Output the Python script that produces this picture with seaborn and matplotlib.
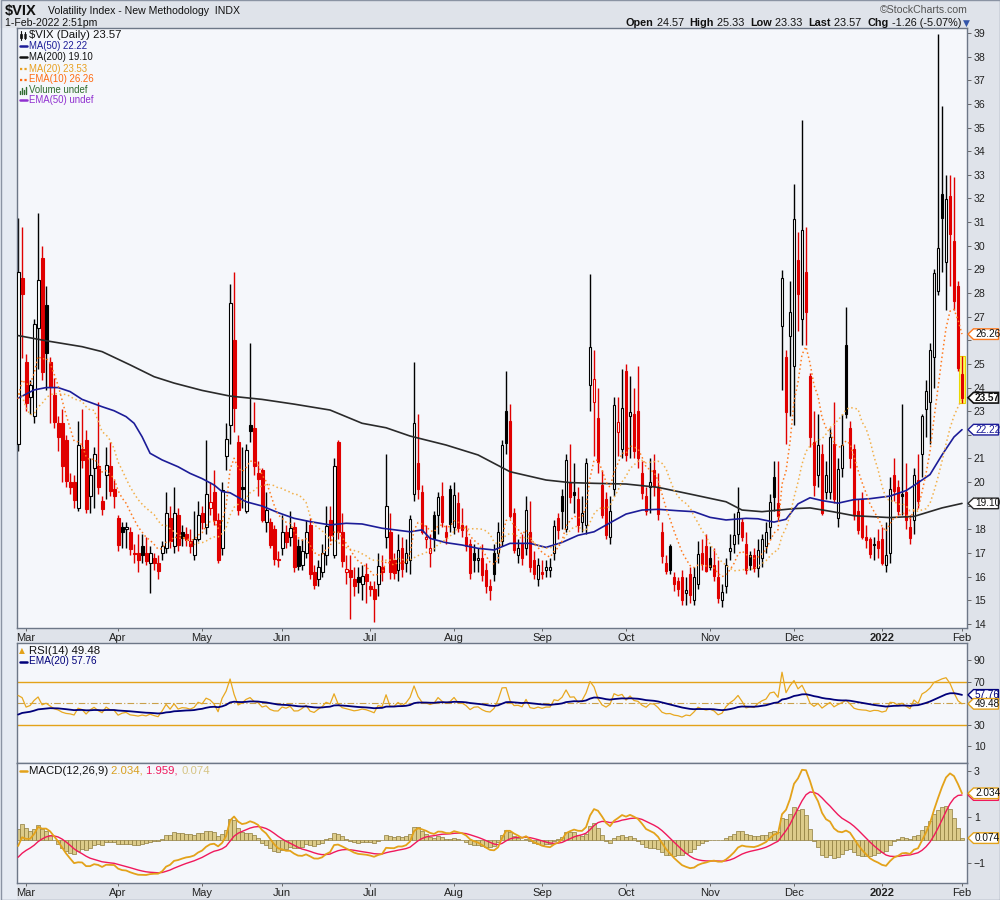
import numpy as np
import pandas as pd
import matplotlib
matplotlib.use("Agg")
import matplotlib.pyplot as plt
from matplotlib import font_manager
from matplotlib.lines import Line2D
from matplotlib.patches import Rectangle, Polygon
import seaborn as sns

# ---------------------------------------------------------------- data
# closes before the first visible candle (Jan 4 - Feb 24 2021), used only to warm up indicators
lookback_close = [26.97, 25.34, 25.07, 22.37, 21.56, 24.08, 23.33, 22.21, 23.25, 24.34,
                  23.24, 21.58, 21.32, 21.91, 23.19, 23.02, 37.21, 30.21, 33.09,
                  30.24, 25.56, 22.91, 21.77, 20.87, 21.24, 21.63, 21.99, 21.25, 19.97,
                  21.46, 21.50, 22.49, 22.05, 23.45, 23.11, 21.34]

open_ = [
    21.6, 28.65,
    25.1, 23.6, 22.8, 26.5, 29.5, 27.5, 25.1, 23.7, 22.5, 22.5, 21.8, 20.0, 20.0, 18.9, 21.4, 21.8, 19.4, 20.6, 20.7, 19.2, 20.3, 20.7, 19.7,
    18.5, 18.1, 18.0, 17.9, 17.0, 17.0, 17.3, 17.0, 16.6, 16.8, 16.6, 17.0, 17.2, 18.5, 17.3, 18.6, 17.9, 17.8, 17.5, 16.9, 17.6,
    18.7, 18.1, 18.9, 19.6, 18.4, 17.2, 21.1, 22.4, 26.0, 21.7, 19.8, 18.8, 22.4, 22.3, 20.4, 20.5, 18.3, 18.3, 18.0, 16.75,
    17.2, 17.9, 17.7, 18.1, 17.3, 16.5, 17.0, 18.2, 16.2, 15.9, 16.2, 16.9, 18.4, 16.9, 21.7, 17.9, 16.2, 16.3, 15.9, 16.0, 15.7, 16.1,
    15.6, 15.5, 15.7, 16.4, 17.7, 17.9, 16.7, 16.3, 17.2, 16.6, 16.7, 19.5, 20.8, 19.6, 17.6, 17.0, 18.6, 18.6, 19.4, 17.9, 19.7,
    18.1, 19.1, 18.2, 17.7, 17.4, 17.0, 16.7, 16.8, 16.3, 15.6, 17.0, 17.0, 17.5, 23.0, 22.6, 18.7, 16.9, 17.4, 17.2, 17.9, 16.7, 15.9,
    16.2, 16.3, 16.3, 17.0, 18.5, 19.4, 18.0, 20.0, 19.6, 19.3, 18.3, 18.2, 24.1, 23.4, 22.7, 19.9, 19.3, 17.7, 19.7, 22.1, 21.4,
    24.7, 22.8, 22.9, 23.0, 20.4, 19.4, 19.8, 20.5, 19.8, 17.9, 16.6, 17.3, 16.0, 15.8, 16.0, 15.3, 16.1, 15.0, 15.7, 17.0, 17.3,
    16.8, 16.5, 16.0, 15.0, 15.6, 17.1, 17.4, 17.8, 18.3, 17.4, 16.9, 16.9, 16.35, 16.8, 17.3, 18.1, 20.2, 19.1, 26.6, 25.3, 26.2,
    24.9, 29.4, 26.9, 28.9, 24.5, 21.7, 20.3, 21.2, 19.6, 19.6, 21.6, 18.5, 20.6, 25.8, 22.3, 21.4, 18.8, 19.3, 17.7, 17.6, 17.4, 17.5,
    17.6, 16.5, 17.0, 20.3, 19.8, 19.5, 19.6, 18.1, 18.4, 20.1, 21.2, 23.1, 23.4, 25.3, 28.1, 32.2, 29.3, 32.1, 30.2, 28.3,
    24.57]

high = [
    31.16, 30.8,
    25.4, 24.3, 26.9, 31.4, 30.0, 28.3, 25.3, 24.4, 22.8, 23.1, 22.0, 20.4, 20.3, 22.6, 23.1, 22.2, 21.0, 21.5, 23.4, 19.4, 21.5, 21.7, 20.1,
    18.6, 18.3, 18.3, 18.1, 17.4, 17.8, 17.8, 17.7, 17.3, 17.0, 16.9, 17.5, 19.6, 19.0, 19.8, 18.9, 18.2, 18.1, 18.0, 18.8, 19.2,
    19.0, 21.8, 20.0, 20.5, 18.7, 20.0, 22.5, 28.4, 28.9, 22.0, 21.5, 21.6, 25.9, 23.4, 20.9, 20.6, 19.6, 18.5, 18.2, 17.1,
    18.6, 18.2, 18.8, 18.3, 17.6, 17.6, 18.4, 18.5, 16.5, 16.7, 17.4, 19.0, 19.0, 21.0, 21.8, 18.7, 16.9, 16.9, 16.4, 16.4, 16.5, 16.6,
    15.8, 15.8, 17.0, 16.9, 21.2, 18.7, 17.0, 17.8, 17.7, 17.6, 18.6, 25.1, 22.9, 19.9, 18.2, 17.8, 18.8, 19.6, 20.0, 18.2, 19.9,
    20.0, 19.6, 18.9, 18.2, 17.6, 17.4, 17.2, 17.4, 16.6, 15.9, 17.4, 18.3, 21.8, 24.7, 23.3, 18.9, 17.6, 17.8, 19.4, 19.2, 17.1, 16.8,
    16.7, 16.7, 16.8, 18.4, 18.7, 19.7, 21.2, 21.6, 20.8, 19.8, 19.4, 21.0, 28.8, 25.6, 24.0, 20.5, 19.6, 19.4, 23.6, 23.6, 24.8,
    25.0, 24.5, 24.0, 24.9, 20.9, 19.8, 21.0, 21.2, 20.4, 18.3, 16.9, 17.4, 16.2, 16.0, 16.3, 16.0, 16.4, 16.4, 17.5, 17.6, 17.8,
    17.3, 17.2, 16.7, 15.7, 16.8, 17.8, 18.7, 19.8, 18.5, 17.9, 17.1, 17.2, 17.6, 17.8, 18.3, 19.5, 20.9, 20.9, 28.99, 25.6, 28.5,
    32.6, 30.6, 35.3, 30.8, 24.6, 23.0, 22.9, 21.6, 20.9, 22.3, 23.4, 21.0, 22.9, 27.4, 22.6, 21.6, 19.3, 19.6, 18.2, 17.7, 17.7, 18.0,
    18.1, 18.3, 20.2, 21.0, 20.1, 23.3, 20.8, 18.6, 20.6, 21.2, 22.9, 24.3, 25.9, 29.0, 38.94, 35.9, 33.0, 33.0, 32.9, 28.5,
    25.33]

low = [
    21.3, 25.25,
    23.0, 22.9, 22.5, 24.8, 24.3, 23.9, 22.5, 22.3, 21.3, 20.0, 19.8, 19.5, 18.9, 18.8, 20.6, 18.7, 18.7, 18.9, 19.5, 18.6, 19.3, 19.4, 18.9,
    17.1, 17.2, 17.2, 16.9, 16.6, 16.2, 16.6, 16.5, 15.3, 16.3, 15.9, 16.7, 17.0, 17.2, 17.0, 17.1, 17.3, 17.3, 17.0, 16.7, 17.5,
    18.0, 17.8, 18.6, 18.2, 16.6, 16.9, 20.5, 21.6, 22.1, 18.6, 18.9, 18.7, 21.7, 20.3, 19.4, 18.3, 17.9, 17.2, 16.5, 16.4,
    16.9, 17.2, 17.3, 16.2, 16.3, 16.3, 16.8, 15.9, 15.5, 15.6, 16.0, 16.5, 17.5, 16.8, 17.6, 16.4, 15.7, 14.2, 15.2, 15.3, 15.0, 14.9,
    15.2, 14.1, 15.2, 15.8, 17.2, 15.9, 15.9, 15.8, 16.0, 16.2, 16.1, 19.2, 19.3, 17.8, 17.2, 16.4, 17.1, 17.8, 18.1, 17.4, 17.9,
    17.8, 17.9, 17.7, 17.1, 15.9, 16.2, 16.2, 15.8, 15.3, 15.0, 15.8, 16.6, 17.3, 21.2, 18.5, 17.0, 16.6, 16.5, 16.9, 16.2, 15.9, 15.6,
    15.9, 16.0, 16.0, 16.7, 17.6, 18.0, 17.9, 19.1, 18.7, 17.9, 17.9, 17.8, 23.0, 21.1, 20.4, 18.5, 17.6, 17.4, 19.4, 21.1, 21.0,
    20.9, 21.0, 21.0, 20.6, 19.3, 18.6, 18.7, 19.4, 18.4, 16.6, 16.1, 16.1, 15.4, 15.2, 14.8, 14.8, 14.9, 14.8, 15.5, 16.3, 16.2,
    16.3, 15.8, 14.9, 14.7, 15.3, 16.7, 17.0, 17.4, 17.5, 16.1, 16.3, 16.2, 16.0, 16.4, 17.0, 17.6, 18.8, 18.4, 23.9, 21.6, 22.8,
    22.4, 26.4, 25.8, 25.8, 21.5, 19.4, 19.8, 18.6, 19.3, 19.3, 19.1, 18.1, 20.2, 22.7, 20.6, 18.4, 17.8, 17.6, 17.2, 16.8, 16.7, 16.8,
    16.5, 16.2, 16.6, 19.2, 18.6, 18.6, 18.0, 17.4, 17.8, 18.9, 20.2, 21.9, 21.6, 24.0, 27.9, 28.9, 27.3, 28.3, 27.3, 24.7,
    23.33]

close = [
    28.89, 27.95,
    23.35, 24.10, 26.67, 28.57, 24.66, 25.47, 24.03, 22.56, 21.91, 20.69, 20.03, 19.79, 19.23, 21.58, 20.95, 18.88, 20.30, 21.20, 19.81, 18.86, 20.74, 19.61, 19.40,
    17.33, 17.91, 18.12, 17.16, 16.95, 16.69, 16.91, 16.65, 16.99, 16.57, 16.25, 17.30, 18.68, 17.50, 18.71, 17.33, 17.64, 17.56, 17.28, 17.61, 18.61,
    18.31, 19.48, 19.15, 18.39, 16.69, 19.66, 21.84, 27.59, 23.13, 18.81, 19.72, 21.34, 22.18, 20.67, 20.15, 18.40, 18.84, 17.36, 16.74, 16.70,
    17.90, 17.48, 18.04, 16.42, 16.46, 17.07, 17.89, 16.10, 15.65, 16.39, 17.02, 18.15, 17.75, 20.70, 17.89, 16.66, 16.32, 15.97, 15.62, 15.76, 16.02, 15.83,
    15.48, 15.07, 16.44, 16.20, 19.00, 16.18, 16.17, 17.12, 16.33, 17.01, 18.45, 22.50, 19.73, 17.91, 17.69, 17.20, 17.58, 19.36, 18.31, 17.70, 18.24,
    19.46, 18.04, 17.97, 17.28, 16.15, 16.72, 16.79, 16.06, 15.59, 15.45, 16.12, 17.91, 21.57, 21.67, 18.56, 17.15, 17.22, 16.79, 18.84, 16.39, 16.11, 16.48,
    16.11, 16.41, 16.41, 18.14, 17.96, 18.80, 20.95, 19.37, 19.46, 18.18, 18.69, 20.81, 25.71, 24.36, 20.87, 18.63, 17.75, 18.76, 23.25, 22.56, 23.14,
    21.15, 22.96, 21.30, 21.00, 19.54, 18.77, 20.00, 19.85, 18.64, 16.86, 16.25, 16.30, 15.70, 15.49, 15.01, 15.43, 15.24, 15.98, 16.98, 16.53, 16.26,
    16.41, 16.03, 15.10, 15.37, 16.48, 17.22, 17.78, 18.73, 17.66, 16.29, 16.49, 16.37, 17.11, 17.59, 17.91, 19.17, 19.38, 18.58, 28.62, 22.96, 27.19,
    31.12, 27.95, 30.67, 27.18, 21.89, 19.90, 21.58, 18.69, 20.31, 21.89, 19.29, 20.57, 21.57, 22.87, 21.01, 18.63, 17.96, 17.68, 17.54, 16.95, 17.33, 17.22,
    16.60, 16.91, 19.73, 19.61, 18.76, 19.40, 18.41, 17.62, 20.31, 19.19, 22.79, 23.85, 25.59, 28.85, 29.90, 31.16, 31.96, 30.49, 27.66, 24.83,
    23.57]

# long moving averages (trading-day number, value)
ma50_day = [0, 4, 7, 10, 13, 16, 21, 24, 27, 29, 31, 33, 36, 40, 43, 46, 49, 51, 53, 57, 61, 65, 69, 73, 78,
            82, 86, 91, 98, 101, 103, 107, 111, 115, 119, 123, 128, 132, 136, 140, 144, 148, 152, 156, 160,
            165, 169, 173, 177, 182, 185, 189, 192, 195, 198, 201, 205, 209, 213, 218, 222, 224, 228, 231, 234, 236]
ma50_val = [23.55, 23.9, 24.0, 24.0, 23.83, 23.5, 23.19, 23.02, 22.77, 22.49, 21.92, 21.22, 20.94, 20.65, 20.37,
            20.15, 19.88, 19.6, 19.55, 19.17, 18.99, 18.71, 18.47, 18.33, 18.19, 18.26, 18.23, 18.05, 17.9, 17.98,
            17.62, 17.44, 17.34, 17.2, 17.13, 17.41, 17.41, 17.24, 17.45, 17.75, 17.9, 18.28, 18.65, 18.82, 18.85,
            18.79, 18.75, 18.51, 18.4, 18.47, 18.45, 18.31, 18.43, 19.08, 19.34, 19.22, 19.11, 19.26, 19.3, 19.41,
            19.64, 19.86, 20.32, 21.15, 21.91, 22.22]
ma200_day = [0, 7, 16, 21, 28, 34, 39, 46, 53, 61, 69, 78, 86, 92, 98, 107, 115, 123, 132, 138, 144, 152,
             160, 169, 177, 181, 186, 194, 198, 204, 209, 218, 224, 231, 236]
ma200_val = [26.2, 25.98, 25.73, 25.52, 24.96, 24.46, 24.19, 23.88, 23.64, 23.5, 23.3, 23.05, 22.49, 22.3,
             21.95, 21.57, 21.15, 20.44, 20.09, 19.98, 19.95, 19.92, 19.78, 19.46, 19.17, 18.82, 18.75, 18.88,
             18.91, 18.74, 18.58, 18.5, 18.55, 18.91, 19.10]

market_holidays = ['2021-04-02', '2021-05-31', '2021-07-05', '2021-09-06', '2021-11-25', '2021-12-24', '2022-01-17']
month_labels = ['Mar', 'Apr', 'May', 'Jun', 'Jul', 'Aug', 'Sep', 'Oct', 'Nov', 'Dec', '2022', 'Feb']

last_ema10, last_ma20, last_ma50, last_ma200 = 26.26, 23.53, 22.22, 19.10
last_rsi, last_rsi_ema = 49.48, 57.76
last_macd, last_signal, last_hist = 2.034, 1.959, 0.074

# ---------------------------------------------------------------- derived
dates = pd.bdate_range('2021-02-25', '2022-02-01')
dates = dates[~dates.isin(pd.to_datetime(market_holidays))]
n = len(close)
assert len(dates) == n == len(open_) == len(high) == len(low), (len(dates), n, len(open_), len(high), len(low))
x = np.arange(n)
o = np.array(open_); h = np.array(high); l = np.array(low); c = np.array(close)

nlb = len(lookback_close)
allc = pd.Series(lookback_close + close, dtype=float)
ema10 = allc.ewm(span=10, adjust=False).mean().values[nlb:]
ma20 = allc.rolling(20).mean().values[nlb:]
delta = allc.diff()
gain = delta.clip(lower=0)
loss = -delta.clip(upper=0)
ag = gain.ewm(alpha=1 / 14, adjust=False).mean()
al = loss.ewm(alpha=1 / 14, adjust=False).mean()
rsi_all = 100 - 100 / (1 + ag / al)
rsi_ema_all = rsi_all.ewm(span=20, adjust=False).mean()
macd_all = allc.ewm(span=12, adjust=False).mean() - allc.ewm(span=26, adjust=False).mean()
signal_all = macd_all.ewm(span=9, adjust=False).mean()
rsi = rsi_all.values[nlb:]
rsi_ema = rsi_ema_all.values[nlb:]
macd = macd_all.values[nlb:]
signal = signal_all.values[nlb:]
hist = macd - signal

per = dates.to_period('M')
month_pos = [i for i in range(1, n) if per[i] != per[i - 1]]

# ---------------------------------------------------------------- style
sns.set_theme(style="white")
installed = {f.name for f in font_manager.fontManager.ttflist}
NARROW = 'Liberation Sans Narrow' if 'Liberation Sans Narrow' in installed else 'Liberation Sans'
plt.rcParams['font.family'] = ['Liberation Sans', 'DejaVu Sans']
BG_FIG = '#dfe3ea'
BG_AX = '#f5f7fb'
SPINE = '#6d7787'
RED = '#e00000'
TXT = '#222222'

fig = plt.figure(figsize=(10, 9), dpi=100, facecolor=BG_FIG)
renderer = fig.canvas.get_renderer()


def px_axes(lft, top, rgt, bot):
    return fig.add_axes([lft / 1000, 1 - bot / 900, (rgt - lft) / 1000, (bot - top) / 900])


def ftext(xp, yp, s, **kw):
    kw.setdefault('va', 'center')
    return fig.text(xp / 1000, 1 - yp / 900, s, **kw)


def fline(x0, x1, yp, **kw):
    fig.add_artist(Line2D([x0 / 1000, x1 / 1000], [1 - yp / 900, 1 - yp / 900],
                          transform=fig.transFigure, **kw))


fig.add_artist(Rectangle((0, 0), 16.5 / 1000, 1 - 28 / 900, transform=fig.transFigure,
                         facecolor='#e6ebf3', edgecolor='none', zorder=0))
fig.add_artist(Rectangle((0.0005, 0.0005), 0.999, 0.999, transform=fig.transFigure,
                         facecolor='none', edgecolor='#8a93a3', lw=1.0, zorder=0))

ax = px_axes(16.5, 28, 967, 628)
ax_r = px_axes(16.5, 643, 967, 763)
ax_m = px_axes(16.5, 763, 967, 883)

for a in (ax, ax_r, ax_m):
    a.set_facecolor(BG_AX)
    a.set_xlim(-0.4, 237.25)
    for s in a.spines.values():
        s.set_color(SPINE)
        s.set_linewidth(1.0)
    a.yaxis.tick_right()
    a.tick_params(axis='y', which='both', labelsize=7.6, length=3, width=0.7, color='#666666',
                  labelcolor=TXT, pad=2, right=True, left=False)
    a.tick_params(axis='x', labelsize=8, length=2, width=0.7, color='#666666',
                  labelcolor=TXT, pad=1.5, bottom=True)
    a.grid(False)

# ---------------------------------------------------------------- price panel
prev = np.r_[lookback_close[-1], c[:-1]]
edge = np.where(c < prev, RED, '#000000')
hollow = c > o
face = np.where(hollow, '#ffffff', edge)

ax.add_patch(Rectangle((n - 1 - 0.65, l[-1]), 1.3, h[-1] - l[-1], facecolor='#ffff66',
                       edgecolor='#e8d800', lw=0.8, zorder=1.5))
ax.vlines(x, l, h, colors=edge, linewidth=1.0, zorder=2)
ax.bar(x, np.maximum(np.abs(c - o), 0.05), bottom=np.minimum(o, c), width=0.72,
       color=face, edgecolor=edge, linewidth=0.8, zorder=3)

sns.lineplot(x=ma200_day, y=ma200_val, ax=ax, color='#2a2a2a', linewidth=1.2, zorder=5)
sns.lineplot(x=ma50_day, y=ma50_val, ax=ax, color='#1c1c98', linewidth=1.2, zorder=5)
sns.lineplot(x=x, y=ma20, ax=ax, color='#f2b04a', linewidth=1.1, linestyle=(0, (1, 1.8)), zorder=5)
sns.lineplot(x=x, y=ema10, ax=ax, color='#ff7a1e', linewidth=1.1, linestyle=(0, (1, 1.8)), zorder=5)

ax.set_ylim(13.83, 39.21)
hidden = {26, 22, 19}     # labels covered by the value tags
ax.set_yticks(range(14, 40))
ax.set_yticklabels(['' if v in hidden else str(v) for v in range(14, 40)])
ax.set_xticks(month_pos)
ax.set_xticklabels(month_labels)
ax.set_xlabel('')
ax.set_ylabel('')

# ---------------------------------------------------------------- RSI panel
ax_r.axhline(70, color='#e3a21a', lw=1.0, zorder=1)
ax_r.axhline(30, color='#e3a21a', lw=1.0, zorder=1)
ax_r.axhline(50, color='#c9a04a', lw=0.8, ls=(0, (6, 2, 1, 2)), zorder=1)
sns.lineplot(x=x, y=rsi, ax=ax_r, color='#e8a820', linewidth=0.9, zorder=3)
sns.lineplot(x=x, y=rsi_ema, ax=ax_r, color='#00007a', linewidth=1.3, zorder=4)
ax_r.set_ylim(-5.3, 105.8)
ax_r.set_yticks([10, 30, 70, 90])
ax_r.set_xticks(month_pos)
ax_r.set_xticklabels([])
ax_r.tick_params(axis='x', length=0)
ax_r.set_xlabel('')
ax_r.set_ylabel('')

# ---------------------------------------------------------------- MACD panel
ax_m.bar(x, hist, width=1.0, color='#dccb8a', edgecolor='#8e7c3c', linewidth=0.5, zorder=2)
sns.lineplot(x=x, y=signal, ax=ax_m, color='#f0185c', linewidth=1.0, zorder=4)
sns.lineplot(x=x, y=macd, ax=ax_m, color='#e3a21a', linewidth=1.3, zorder=5)
ax_m.set_ylim(-1.89, 3.36)
ax_m.set_yticks([-1, 1, 3])
ax_m.set_xticks(month_pos)
ax_m.set_xticklabels(month_labels)
ax_m.set_xlabel('')
ax_m.set_ylabel('')

for a in (ax, ax_m):
    for lab in a.get_xticklabels():
        if lab.get_text() == '2022':
            lab.set_fontweight('bold')


# ---------------------------------------------------------------- value tags
def tag(axis, yval, text, ec, tc='#111111', bold=False, lw=1.0):
    ypx = 900 - axis.transData.transform((0, yval))[1]
    hh = 5.3
    pts = [(968, ypx), (973.5, ypx - hh), (998.5, ypx - hh), (998.5, ypx + hh), (973.5, ypx + hh)]
    fig.add_artist(Polygon([(px / 1000, 1 - py / 900) for px, py in pts], closed=True,
                           transform=fig.transFigure, fc='white', ec=ec, lw=lw, zorder=20))
    if text:
        t = ftext(975, ypx, text, fontsize=7.2, color=tc, ha='left',
                  fontweight='bold' if bold else 'normal')
        t.set_zorder(21)


tag(ax, last_ema10, f'{last_ema10:.2f}', '#ff7a1e')
tag(ax, c[-1], f'{c[-1]:.2f}', '#111111', bold=True, lw=1.2)
tag(ax, last_ma50, f'{last_ma50:.2f}', '#1c1c98', tc='#1c1c98')
tag(ax, last_ma200, f'{last_ma200:.2f}', '#2a2a2a')
tag(ax_r, last_rsi_ema, f'{last_rsi_ema:.2f}', '#00007a', tc='#00007a')
tag(ax_r, last_rsi, f'{last_rsi:.2f}', '#e3a21a')
tag(ax_m, last_signal, '', '#f0185c')
tag(ax_m, last_macd, f'{last_macd:.3f}', '#e3a21a')
tag(ax_m, last_hist, f'{last_hist:.3f}', '#e3a21a')

# ---------------------------------------------------------------- header
ftext(5, 11, '$VIX', fontsize=10.5, fontweight='bold', color='#111111', family=[NARROW, 'DejaVu Sans'])
ftext(48, 11.5, 'Volatility Index - New Methodology  INDX', fontsize=8 if NARROW != 'Liberation Sans' else 7.6,
      color='#111111', family=[NARROW, 'DejaVu Sans'])
ftext(5, 23, '1-Feb-2022 2:51pm', fontsize=8.2 if NARROW != 'Liberation Sans' else 7.6,
      color='#111111', family=[NARROW, 'DejaVu Sans'])
ftext(968, 10, '\u00a9StockCharts.com', fontsize=7.6, color='#555555', ha='right')

hdr = [('Open', True), (' 24.57  ', False), ('High', True), (' 25.33  ', False), ('Low', True),
       (' 23.33  ', False), ('Last', True), (' 23.57  ', False), ('Chg', True), (' -1.26 (-5.07%)', False)]
hsize = 8.4 if NARROW != 'Liberation Sans' else 7.8
widths = []
for s, b in hdr:
    t = ftext(0, 23, s, fontsize=hsize, fontweight='bold' if b else 'normal', family=[NARROW, 'DejaVu Sans'])
    widths.append(t.get_window_extent(renderer=renderer).width)
    t.remove()
xcur = 961 - sum(widths)
for (s, b), w in zip(hdr, widths):
    ftext(xcur, 23, s, fontsize=hsize, fontweight='bold' if b else 'normal', color='#111111',
          family=[NARROW, 'DejaVu Sans'])
    xcur += w
ftext(963, 23, '\u25bc', fontsize=6.5, color='#3355aa', family=['DejaVu Sans'])

# ---------------------------------------------------------------- panel legends
LX0, LX1, LTX = 19.5, 26.5, 29
fig.add_artist(Line2D([20.5 / 1000, 20.5 / 1000], [1 - 31 / 900, 1 - 40 / 900], transform=fig.transFigure, color='#111111', lw=0.8))
fig.add_artist(Line2D([24.5 / 1000, 24.5 / 1000], [1 - 32 / 900, 1 - 39 / 900], transform=fig.transFigure, color='#111111', lw=0.8))
fig.add_artist(Rectangle((19.5 / 1000, 1 - 38 / 900), 2 / 1000, 4 / 900, transform=fig.transFigure, fc='#111111', ec='#111111', lw=0.5))
fig.add_artist(Rectangle((23.5 / 1000, 1 - 37.5 / 900), 2 / 1000, 3.5 / 900, transform=fig.transFigure, fc='white', ec='#111111', lw=0.5))
ftext(LTX, 35.5, '$VIX (Daily) 23.57', fontsize=8.2, color='#111111')
rows = [(46, 'MA(50) 22.22', '#1c1c98', '-'),
        (57, 'MA(200) 19.10', '#111111', '-'),
        (68.5, 'MA(20) 23.53', '#e8a020', ':'),
        (79.5, 'EMA(10) 26.26', '#ff6a10', ':'),
        (90, 'Volume undef', '#2f6b2f', None),
        (100, 'EMA(50) undef', '#9030d0', '-')]
for yy, s, col, st in rows:
    if st == '-':
        fline(LX0, LX1, yy, color=col, lw=1.8)
    elif st == ':':
        fline(LX0, LX1, yy, color=col, lw=1.6, ls=(0, (1, 1)))
    else:
        for k, hh in enumerate([3, 6, 4, 7]):
            fig.add_artist(Line2D([(19.8 + 1.9 * k) / 1000] * 2, [1 - (yy + 3.5) / 900, 1 - (yy + 3.5 - hh) / 900],
                                  transform=fig.transFigure, color=col, lw=1.0))
    ftext(LTX, yy, s, fontsize=6.9, color=col)

ftext(18.5, 650.5, '\u25b2', fontsize=5.5, color='#e3a21a', family=['DejaVu Sans'])
ftext(LTX, 650.5, 'RSI(14) 49.48', fontsize=8.2, color='#111111')
fline(LX0, LX1, 661.5, color='#00007a', lw=1.8)
ftext(LTX, 661.5, 'EMA(20) 57.76', fontsize=7.2, color='#00007a')

fline(LX0, LX1, 770.5, color='#e3a21a', lw=1.8)
parts = [('MACD(12,26,9) ', '#111111'), ('2.034, ', '#d8a020'), ('1.959, ', '#f0185c'), ('0.074', '#d6c484')]
xcur = LTX
for s, col in parts:
    t = ftext(xcur, 770.5, s, fontsize=8.2, color=col)
    xcur += t.get_window_extent(renderer=renderer).width

fig.savefig('out.png', dpi=100, facecolor=BG_FIG)
